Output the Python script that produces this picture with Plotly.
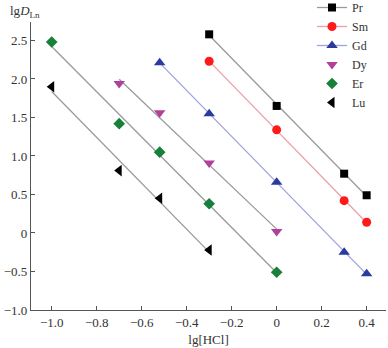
import numpy as np
import plotly.graph_objects as go

# lg[HCl] values and lg D values per element
pr_x = [-0.3, 0.0, 0.3, 0.4]
pr_y = [2.58, 1.65, 0.77, 0.49]
sm_x = [-0.3, 0.0, 0.3, 0.4]
sm_y = [2.23, 1.34, 0.42, 0.14]
gd_x = [-0.52, -0.3, 0.0, 0.3, 0.4]
gd_y = [2.21, 1.55, 0.66, -0.25, -0.53]
dy_x = [-0.7, -0.52, -0.3, 0.0]
dy_y = [1.94, 1.56, 0.91, 0.02]
er_x = [-1.0, -0.7, -0.52, -0.3, 0.0]
er_y = [2.48, 1.42, 1.05, 0.38, -0.51]
lu_x = [-1.0, -0.7, -0.52, -0.3]
lu_y = [1.90, 0.81, 0.45, -0.22]

x_ticks = [-1.0, -0.8, -0.6, -0.4, -0.2, 0.0, 0.2, 0.4]
x_ticktext = ["\u22121.0", "\u22120.8", "\u22120.6", "\u22120.4", "\u22120.2", "0", "0.2", "0.4"]
y_ticks = [-1.0, -0.5, 0.0, 0.5, 1.0, 1.5, 2.0, 2.5]
y_ticktext = ["\u22121.0", "\u22120.5", "0", "0.5", "1.0", "1.5", "2.0", "2.5"]

series = [
    ("Pr", pr_x, pr_y, "square", "#000000", "#9a9a9a", True, 8),
    ("Sm", sm_x, sm_y, "circle", "#ff1a1a", "#eba0a8", True, 9),
    ("Gd", gd_x, gd_y, "triangle-up", "#2b3a9e", "#a0a2dc", True, 10),
    ("Dy", dy_x, dy_y, "triangle-down", "#b0409c", "#9a9a9a", False, 10),
    ("Er", er_x, er_y, "diamond", "#17803a", "#9a9a9a", False, 9),
    ("Lu", lu_x, lu_y, "triangle-left", "#000000", "#9a9a9a", False, 10),
]

fig = go.Figure()
font_family = "Liberation Serif"

# fit lines (computed from the data)
for name, xs, ys, sym, mc, lc, leg_line, ms in series:
    xa = np.array(xs)
    k, b = np.polyfit(xa, np.array(ys), 1)
    xl = np.array([xa.min(), xa.max()])
    fig.add_trace(go.Scatter(x=xl, y=k * xl + b, mode="lines",
                             line=dict(color=lc, width=1.3),
                             showlegend=False, hoverinfo="skip"))

# markers
for name, xs, ys, sym, mc, lc, leg_line, ms in series:
    fig.add_trace(go.Scatter(x=xs, y=ys, mode="markers", name=name,
                             marker=dict(symbol=sym, color=mc, size=ms, line=dict(width=0)),
                             showlegend=False))

# legend entries
for name, xs, ys, sym, mc, lc, leg_line, ms in series:
    fig.add_trace(go.Scatter(x=[None], y=[None], name=name,
                             mode="lines+markers" if leg_line else "markers",
                             line=dict(color=lc, width=1.3),
                             marker=dict(symbol=sym, color=mc, size=ms, line=dict(width=0))))

fig.update_layout(
    width=388, height=348,
    margin=dict(l=31, r=2, t=22, b=38, autoexpand=False),
    plot_bgcolor="white", paper_bgcolor="white",
    font=dict(family=font_family, size=13, color="#333333"),
    legend=dict(xref="paper", yref="paper", x=(312 - 31) / 355, y=1 + 29 / 288,
                xanchor="left", yanchor="top",
                bgcolor="rgba(0,0,0,0)", borderwidth=0,
                font=dict(family=font_family, size=12, color="#333333"),
                tracegroupgap=0, itemwidth=30),
    xaxis=dict(range=[-1.092, 0.486], tickvals=x_ticks, ticktext=x_ticktext,
               showline=True, linecolor="#555555", linewidth=1.3,
               ticks="inside", ticklen=4, tickcolor="#555555", tickwidth=1.2,
               showgrid=False, zeroline=False,
               title=dict(text="lg[HCl]", font=dict(size=13), standoff=6)),
    yaxis=dict(range=[-1.0, 2.74], tickvals=y_ticks, ticktext=y_ticktext,
               showline=True, linecolor="#555555", linewidth=1.3,
               ticks="inside", ticklen=4, tickcolor="#555555", tickwidth=1.2,
               showgrid=False, zeroline=False),
    annotations=[dict(text="lg<i>D</i><sub>Ln</sub>", xref="paper", yref="paper",
                      x=-0.065, y=1.0, xanchor="left", yanchor="bottom",
                      showarrow=False, font=dict(size=13, color="#333333"))],
)

fig.write_html("out.html")
